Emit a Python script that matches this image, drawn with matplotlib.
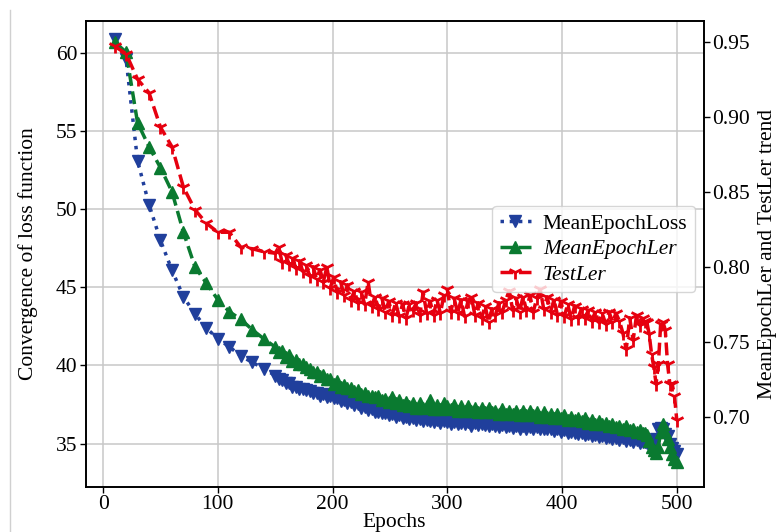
import matplotlib
matplotlib.use("Agg")
import matplotlib.pyplot as plt
from matplotlib.lines import Line2D

plt.rcParams['font.family'] = ['Liberation Serif', 'DejaVu Serif']
plt.rcParams['font.size'] = 15.5

# epochs: sparse at the start, then dense
epochs_early = [10, 20, 30, 40, 50, 60, 70, 80, 90, 100, 110, 120, 130, 140]
epochs_mid = list(range(150, 472, 3))
epochs_end = list(range(472, 501, 2))

loss_early = [60.9, 59.6, 53.1, 50.3, 48.0, 46.1, 44.4, 43.3, 42.4, 41.7, 41.2, 40.6, 40.2, 39.8]
loss_mid = [39.35, 39.1, 39.05, 38.85, 38.9, 38.65, 38.65, 38.5, 38.5, 38.4,
            38.35, 38.25, 38.25, 38.05, 38.2, 38.0, 38.05, 37.9, 37.9, 37.75,
            37.8, 37.6, 37.65, 37.45, 37.5, 37.3, 37.35, 37.15, 37.2, 37.05,
            37.05, 36.95, 36.95, 36.8, 36.9, 36.7, 36.8, 36.65, 36.7, 36.6,
            36.65, 36.5, 36.6, 36.45, 36.5, 36.45, 36.35, 36.5, 36.3, 36.45,
            36.35, 36.25, 36.4, 36.25, 36.3, 36.25, 36.35, 36.15, 36.3, 36.2,
            36.25, 36.2, 36.1, 36.25, 36.15, 36.05, 36.2, 36.05, 36.1, 36.0,
            36.15, 35.95, 36.1, 35.95, 36.05, 35.9, 36.05, 35.9, 35.95, 35.9,
            35.95, 35.8, 35.9, 35.75, 35.85, 35.7, 35.75, 35.7, 35.6, 35.65,
            35.55, 35.6, 35.45, 35.55, 35.4, 35.5, 35.35, 35.4, 35.3, 35.35,
            35.25, 35.35, 35.15, 35.25, 35.1, 35.2, 35.05, 35.1]
loss_end = [35.1, 35.05, 35.0, 34.95, 34.9, 35.3, 35.9, 36.0, 35.9, 35.6, 35.5, 35.0, 34.7, 34.5, 34.3]

ler_early = [0.950, 0.943, 0.896, 0.880, 0.866, 0.850, 0.823, 0.800, 0.789, 0.778, 0.770, 0.765, 0.758, 0.752]
ler_mid = [0.7465, 0.743, 0.744, 0.740, 0.741, 0.737, 0.738, 0.735, 0.735, 0.733,
           0.732, 0.730, 0.730, 0.727, 0.728, 0.725, 0.725, 0.722, 0.724, 0.720,
           0.721, 0.719, 0.719, 0.717, 0.718, 0.715, 0.716, 0.714, 0.714, 0.713,
           0.714, 0.711, 0.712, 0.710, 0.713, 0.709, 0.711, 0.708, 0.710, 0.707,
           0.709, 0.706, 0.709, 0.706, 0.707, 0.711, 0.705, 0.708, 0.705, 0.709,
           0.707, 0.705, 0.708, 0.704, 0.707, 0.704, 0.707, 0.704, 0.706, 0.703,
           0.706, 0.703, 0.706, 0.703, 0.704, 0.702, 0.705, 0.702, 0.704, 0.702,
           0.704, 0.701, 0.704, 0.701, 0.704, 0.701, 0.703, 0.700, 0.703, 0.700,
           0.702, 0.699, 0.702, 0.699, 0.701, 0.698, 0.700, 0.698, 0.699, 0.697,
           0.699, 0.696, 0.698, 0.695, 0.697, 0.695, 0.696, 0.694, 0.695, 0.693,
           0.694, 0.692, 0.694, 0.691, 0.692, 0.690, 0.691, 0.689]
ler_end = [0.689, 0.688, 0.684, 0.680, 0.678, 0.676, 0.680, 0.690, 0.695, 0.690, 0.685, 0.680, 0.675, 0.672, 0.670]

test_early = [0.947, 0.942, 0.925, 0.916, 0.893, 0.880, 0.853, 0.838, 0.829, 0.823, 0.823, 0.813, 0.812, 0.810]
test_mid = [0.809, 0.813, 0.803, 0.808, 0.802, 0.806, 0.799, 0.804, 0.797, 0.801,
            0.794, 0.800, 0.792, 0.798, 0.790, 0.800, 0.786, 0.793, 0.783, 0.790,
            0.781, 0.788, 0.778, 0.784, 0.776, 0.783, 0.775, 0.790, 0.774, 0.780,
            0.772, 0.779, 0.770, 0.777, 0.768, 0.776, 0.767, 0.775, 0.766, 0.775,
            0.771, 0.776, 0.768, 0.783, 0.769, 0.777, 0.768, 0.778, 0.769, 0.781,
            0.785, 0.770, 0.779, 0.769, 0.778, 0.767, 0.777, 0.780, 0.768, 0.776,
            0.766, 0.774, 0.763, 0.772, 0.768, 0.776, 0.770, 0.778, 0.784, 0.771,
            0.779, 0.770, 0.780, 0.771, 0.781, 0.770, 0.779, 0.785, 0.772, 0.780,
            0.770, 0.778, 0.768, 0.777, 0.767, 0.775, 0.765, 0.774, 0.766, 0.772,
            0.766, 0.771, 0.764, 0.770, 0.763, 0.769, 0.762, 0.770, 0.763, 0.769,
            0.764, 0.756, 0.745, 0.766, 0.751, 0.768, 0.761, 0.766]
test_end = [0.764, 0.763, 0.755, 0.742, 0.733, 0.722, 0.735, 0.762, 0.763, 0.758, 0.735, 0.722, 0.722, 0.714, 0.698]

epochs = epochs_early + epochs_mid + epochs_end
mean_epoch_loss = loss_early + loss_mid + loss_end
mean_epoch_ler = ler_early + ler_mid + ler_end
test_ler = test_early + test_mid + test_end

blue = '#203f9c'
green = '#0a7a30'
red = '#e6000f'

fig, ax = plt.subplots(figsize=(7.78, 5.32), dpi=100)
fig.subplots_adjust(left=0.110, right=0.9045, top=0.961, bottom=0.085)
ax2 = ax.twinx()

line1, = ax.plot(epochs, mean_epoch_loss, ':', color=blue, lw=2.5,
                 marker='v', markersize=8, label='MeanEpochLoss')
line2, = ax2.plot(epochs, mean_epoch_ler, '--', color=green, lw=2.5,
                  marker='^', markersize=8, label='MeanEpochLer')
line3, = ax2.plot(epochs, test_ler, '--', color=red, lw=2.5,
                  marker='1', markersize=10, markeredgewidth=2, label='TestLer')

ax.set_xlim(-15.3, 523.5)
ax.set_ylim(32.23, 62.07)
ax2.set_ylim(0.6533, 0.964)
ax.set_yticks([35, 40, 45, 50, 55, 60])
ax2.set_yticks([0.70, 0.75, 0.80, 0.85, 0.90, 0.95])
ax2.set_yticklabels(['0.70', '0.75', '0.80', '0.85', '0.90', '0.95'])

ax.grid(True, color='#c8c8c8', linewidth=1.1)
ax.set_axisbelow(True)
for a in (ax, ax2):
    a.tick_params(direction='out', length=4, width=1, pad=2, colors='black')
    for s in a.spines.values():
        s.set_color('black')
        s.set_linewidth(1.2)

ax.set_xlabel('Epochs', labelpad=-1)
ax.set_ylabel('Convergence of loss function', labelpad=13)
ax2.set_ylabel('MeanEpochLer and TestLer trend', labelpad=6)

leg = ax2.legend(handles=[line1, line2, line3], loc='center right',
                 bbox_to_anchor=(1.0, 0.51), fontsize=15.5, handlelength=1.45,
                 handletextpad=0.55, borderpad=0.35, labelspacing=0.25,
                 borderaxespad=0.4)
leg.get_texts()[1].set_style('italic')
leg.get_texts()[2].set_style('italic')

fig.add_artist(Line2D([10 / 778, 10 / 778], [0, 1 - 10 / 532], transform=fig.transFigure,
                      color='#d0d0d0', linewidth=1))

fig.savefig('out.png', dpi=100)
